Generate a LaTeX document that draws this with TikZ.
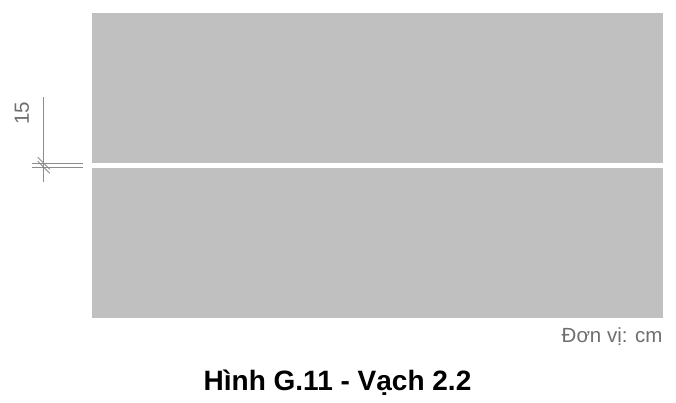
\documentclass[tikz,border=0pt]{standalone}
\usepackage{fontspec}
\setmainfont{Liberation Sans}
\definecolor{panel}{HTML}{C0C0C0}
\definecolor{dimline}{HTML}{8C8C8C}
\definecolor{dimtext}{HTML}{6E6E6E}
\begin{document}
\begin{tikzpicture}[x=1pt,y=-1pt,
  dimstroke/.style={draw=dimline,line width=0.9pt},
  dimlabel/.style={text=dimtext,font=\fontsize{20.5}{24}\selectfont,inner sep=0pt},
  captionlabel/.style={font=\fontsize{28}{32}\selectfont\bfseries,inner sep=0pt}]
\useasboundingbox (0,0) rectangle (676,402);
% panels
\fill[panel] (92,12.7) rectangle (662.7,162.5);
\fill[panel] (92,167.5) rectangle (662.7,318.3);
% dimension
\coordinate (vtop) at (43.7,97);
\coordinate (vbot) at (43.7,182);
\coordinate (e1a) at (32,163.3);
\coordinate (e1b) at (83.3,163.3);
\coordinate (e2a) at (32,167.3);
\coordinate (e2b) at (83.3,167.3);
\draw[dimstroke] (vtop) -- (vbot);
\draw[dimstroke] (e1a) -- (e1b);
\draw[dimstroke] (e2a) -- (e2b);
\coordinate (t1a) at (37.7,157.3);
\coordinate (t1b) at (49.7,169.3);
\coordinate (t2a) at (37.7,161.3);
\coordinate (t2b) at (49.7,173.3);
\draw[dimstroke] (t1a) -- (t1b);
\draw[dimstroke] (t2a) -- (t2b);
\node[dimlabel,rotate=90] (dim) at (22,113) {15};
\node[dimlabel,anchor=base east] (unit) at (662.7,342) {Đơn vị: cm};
\node[captionlabel,anchor=base] (cap) at (337.5,390) {Hình G.11 - Vạch 2.2};
\end{tikzpicture}
\end{document}
